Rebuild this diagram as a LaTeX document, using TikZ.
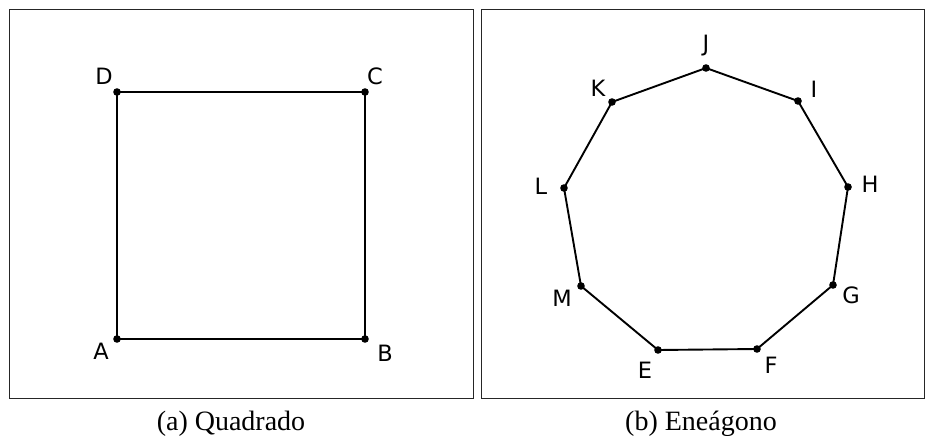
\documentclass[tikz,border=0pt]{standalone}
\usepackage{fontspec}
\setmainfont{Liberation Serif}
\newfontfamily\ptfont{DejaVu Sans}
\usetikzlibrary{positioning}

\begin{document}
\begin{tikzpicture}[x=1pt, y=-1pt,
    frame/.style={draw=black!85, line width=1.1pt},
    side/.style={line width=1.9pt},
    ptlabel/.style={font=\ptfont\fontsize{22.5}{26}\selectfont, inner sep=0pt},
    caption/.style={font=\fontsize{28}{32}\selectfont, anchor=base, inner sep=0pt}]
  \useasboundingbox (0,0) rectangle (934,436);

  % frames
  \draw[frame] (9.5,9.5) rectangle (473.5,398.5);
  \draw[frame] (481.5,9.5) rectangle (924.5,398.5);

  % square
  \coordinate (A) at (117,339);
  \coordinate (B) at (365,339);
  \coordinate (C) at (365,92);
  \coordinate (D) at (117,92);
  \draw[side] (A) -- (B) -- (C) -- (D) -- cycle;
  \foreach \p in {A,B,C,D}
    \fill (\p) circle (3.8pt);
  \node[ptlabel] (lA) at (101,351) {A};
  \node[ptlabel] (lB) at (385,353.5) {B};
  \node[ptlabel] (lC) at (375,76) {C};
  \node[ptlabel] (lD) at (104,76) {D};

  % nonagon
  \coordinate (E) at (658,350);
  \coordinate (F) at (757,349);
  \coordinate (G) at (833,285);
  \coordinate (H) at (848,187);
  \coordinate (I) at (798,101);
  \coordinate (J) at (706,68);
  \coordinate (K) at (612,102);
  \coordinate (L) at (564,188);
  \coordinate (M) at (581,286);
  \draw[side] (E) -- (F) -- (G) -- (H) -- (I) -- (J) -- (K) -- (L) -- (M) -- cycle;
  \foreach \p in {E,F,G,H,I,J,K,L,M}
    \fill (\p) circle (3.8pt);
  \node[ptlabel] (lE) at (645,370) {E};
  \node[ptlabel] (lF) at (771,365) {F};
  \node[ptlabel] (lG) at (851,295) {G};
  \node[ptlabel] (lH) at (870,184) {H};
  \node[ptlabel] (lI) at (814,89) {I};
  \node[ptlabel] (lJ) at (706,46) {J};
  \node[ptlabel] (lK) at (598,88) {K};
  \node[ptlabel] (lL) at (541,186) {L};
  \node[ptlabel] (lM) at (562,298) {M};

  % captions
  \node[caption] (capa) at (231,430) {(a) Quadrado};
  \node[caption] (capb) at (701,430) {(b) Eneágono};
\end{tikzpicture}
\end{document}
